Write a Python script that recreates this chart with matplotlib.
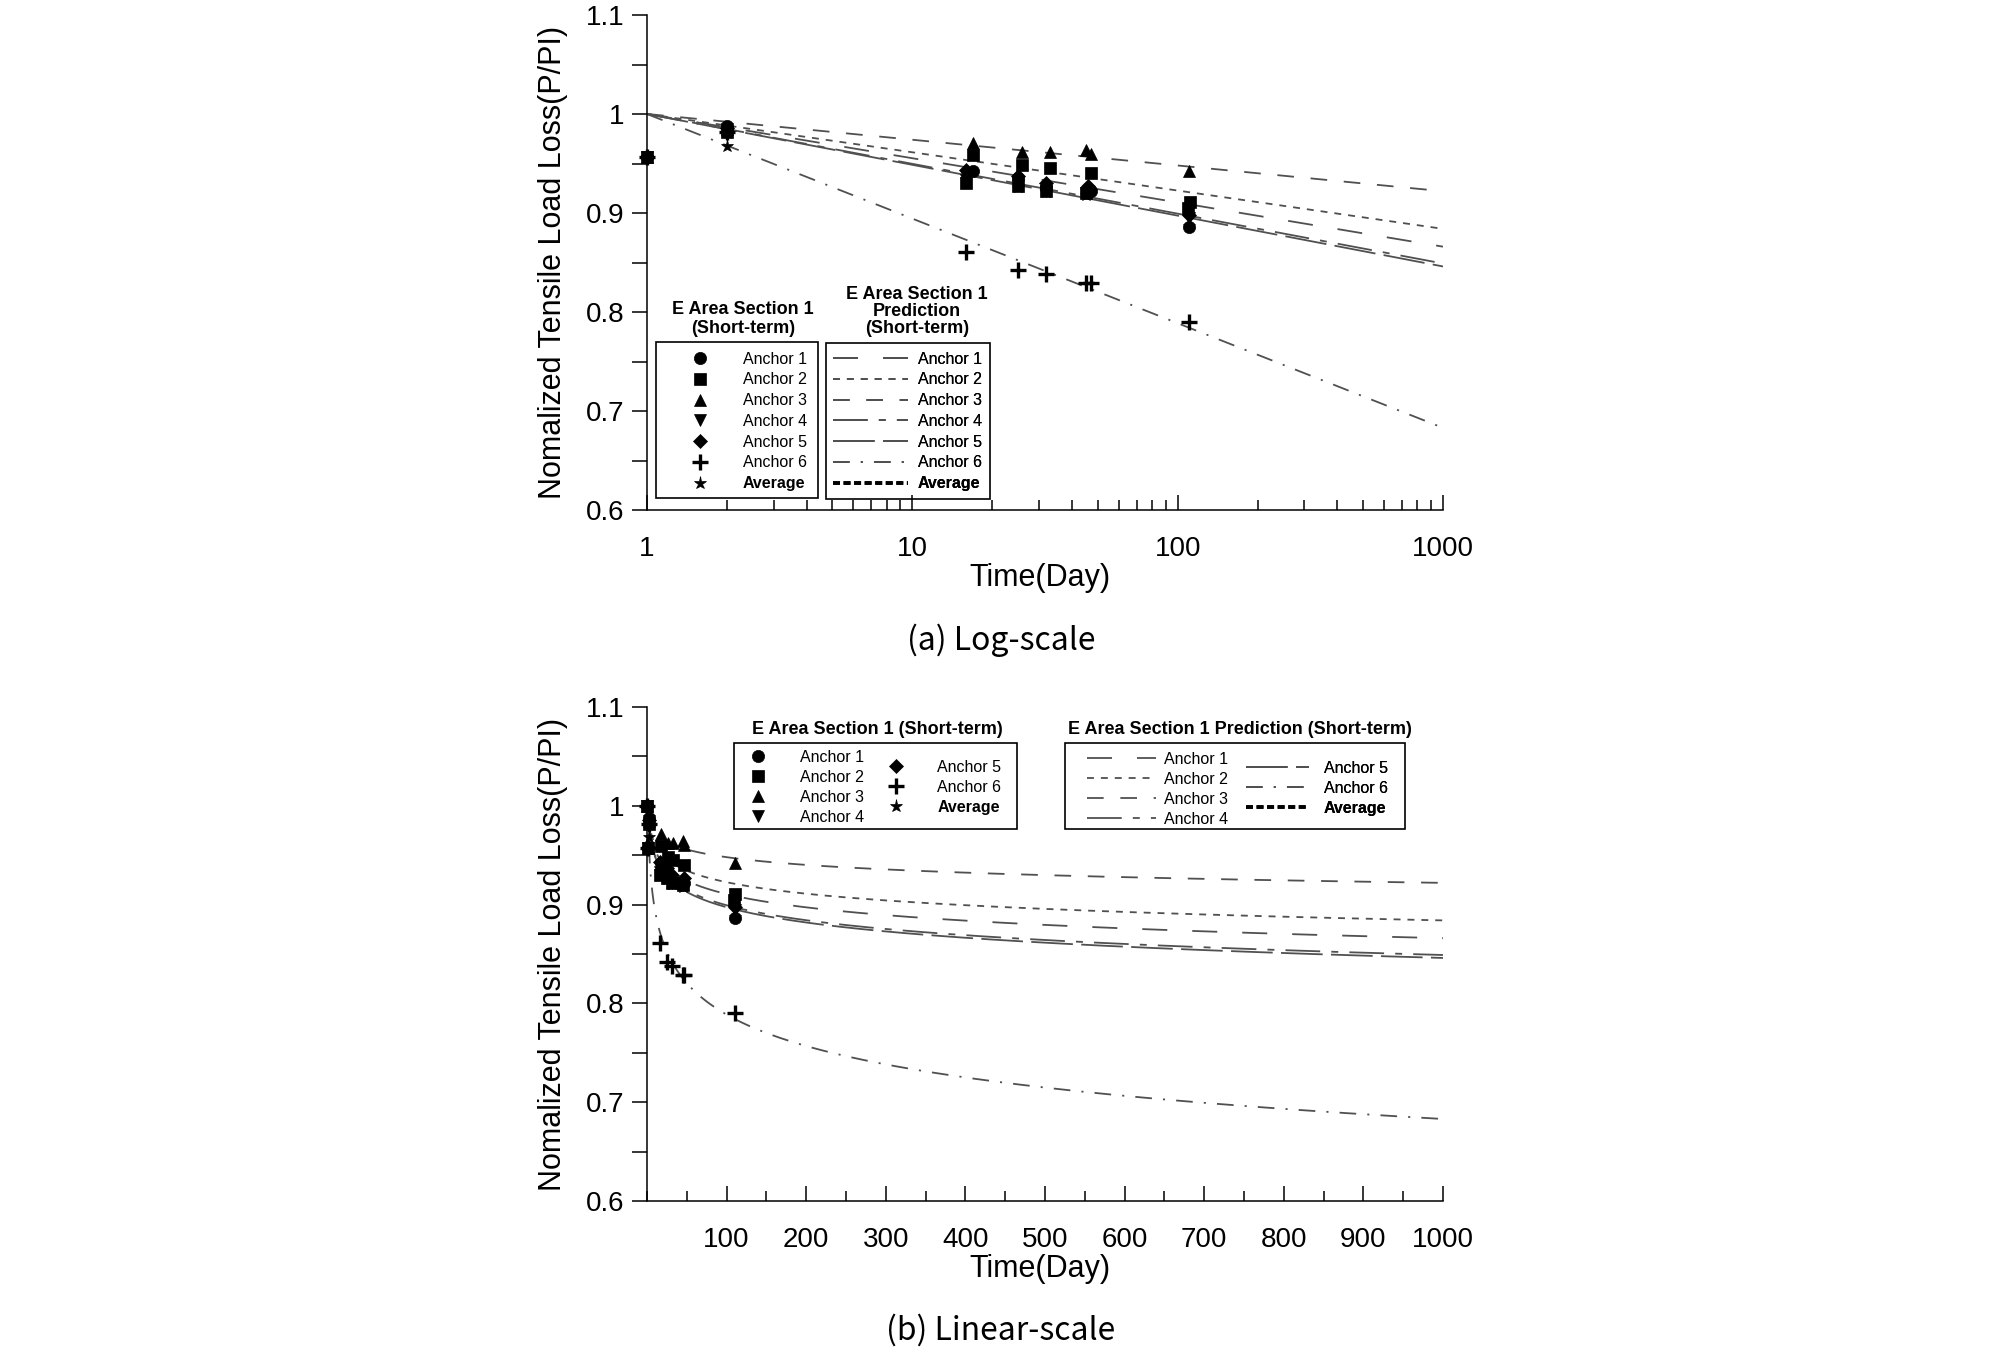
import numpy as np
import matplotlib
matplotlib.use("Agg")
import matplotlib.pyplot as plt
from matplotlib.patches import Rectangle
from matplotlib.lines import Line2D
from matplotlib.ticker import FixedLocator, FixedFormatter, MultipleLocator, NullFormatter, LogLocator
from matplotlib import font_manager

# ------------------------------------------------------------------ data
anchor_labels = ["Anchor 1", "Anchor 2", "Anchor 3", "Anchor 4", "Anchor 5", "Anchor 6"]
avg_label = "Average"

a1_days = [0, 1, 2, 17, 25, 32, 47, 110]
a1_vals = [1.000, 0.957, 0.988, 0.942, 0.935, 0.925, 0.922, 0.886]
a2_days = [0, 1, 2, 16, 17, 25, 26, 32, 33, 45, 47, 109, 111]
a2_vals = [1.000, 0.957, 0.982, 0.930, 0.959, 0.927, 0.948, 0.922, 0.945, 0.920, 0.940, 0.905, 0.911]
a3_days = [0, 1, 2, 17, 26, 33, 45, 47, 110]
a3_vals = [1.000, 0.957, 0.985, 0.971, 0.962, 0.962, 0.964, 0.960, 0.942]
a4_days = [0, 1, 2, 16, 25, 32, 45, 110]
a4_vals = [1.000, 0.957, 0.985, 0.933, 0.928, 0.922, 0.920, 0.895]
a5_days = [0, 1, 2, 16, 25, 32, 46, 110]
a5_vals = [1.000, 0.957, 0.986, 0.943, 0.937, 0.930, 0.927, 0.898]
a6_days = [0, 1, 2, 16, 25, 32, 45, 47, 110]
a6_vals = [1.000, 0.957, 0.982, 0.861, 0.842, 0.838, 0.829, 0.829, 0.790]
avg_days = [0, 1, 2, 16, 25, 32, 45, 110]
avg_vals = [1.000, 0.957, 0.968, 0.934, 0.926, 0.921, 0.918, 0.887]

# prediction (short-term): log-linear model P = 1 - k*log10(t), read as value at 1000 days
pred_at_1000 = [0.866, 0.884, 0.922, 0.849, 0.846, 0.683]
pred_t_start, pred_t_end = 1, 1000

y_ticks = [0.6, 0.7, 0.8, 0.9, 1.0, 1.1]
y_tick_labels = ["0.6", "0.7", "0.8", "0.9", "1", "1.1"]
log_x_ticks = [1, 10, 100, 1000]
log_x_labels = ["1", "10", "100", "1000"]
lin_x_ticks = [100, 200, 300, 400, 500, 600, 700, 800, 900, 1000]
lin_x_labels = [str(v) for v in lin_x_ticks]

# ------------------------------------------------------------------ style
plt.rcParams["lines.scale_dashes"] = False
names = {f.name for f in font_manager.fontManager.ttflist}
NARROW = "Liberation Sans Narrow" if "Liberation Sans Narrow" in names else "Liberation Sans"
SANS = "Liberation Sans"
CAP = "Noto Sans CJK KR"

markers = ["o", "s", "^", "v", "D", "+", "*"]
msizes = [8.8, 9.2, 9.0, 9.0, 6.8, 11.0, 9.5]
line_color = "#505050"
line_dashes = [(18, 18), (5, 5), (12, 12), (25, 8, 5, 8), (30, 6), (12, 8, 1.5, 8)]

meas_days = [a1_days, a2_days, a3_days, a4_days, a5_days, a6_days, avg_days]
meas_vals = [a1_vals, a2_vals, a3_vals, a4_vals, a5_vals, a6_vals, avg_vals]
meas_labels = anchor_labels + [avg_label]

fig = plt.figure(figsize=(20.08, 13.5), dpi=100)
W, H = 2008.0, 1350.0
ax1 = fig.add_axes([647 / W, 1 - 510 / H, 796 / W, 495 / H])
ax2 = fig.add_axes([647 / W, 1 - 1201 / H, 796 / W, 494 / H])

t_pred = np.logspace(np.log10(pred_t_start), np.log10(pred_t_end), 800)


def draw(ax, log):
    line_h = []
    for i, p1000 in enumerate(pred_at_1000):
        k = (1 - p1000) / np.log10(pred_t_end)
        ln, = ax.plot(t_pred, 1 - k * np.log10(t_pred), color=line_color, lw=1.3,
                      dashes=line_dashes[i], label=anchor_labels[i], zorder=2)
        line_h.append(ln)
    avg_proxy = Line2D([], [], color="black", lw=2.6, dashes=(5, 2.6), label=avg_label)
    line_h.append(avg_proxy)
    mark_h = []
    for i in range(7):
        d = np.asarray(meas_days[i], float)
        v = np.asarray(meas_vals[i], float)
        if log:
            keep = d > 0
            d, v = d[keep], v[keep]
        mk = markers[i]
        ln, = ax.plot(d, v, ls="none", marker=mk, ms=msizes[i], color="black",
                      mec="black", mew=2.4 if mk == "+" else 0.5, label=meas_labels[i],
                      zorder=3 + i * 0.01, clip_on=False)
        mark_h.append(ln)
    return mark_h, line_h


def style(ax):
    for s in ("top", "right"):
        ax.spines[s].set_visible(False)
    for s in ("left", "bottom"):
        ax.spines[s].set_linewidth(1.1)
    ax.set_ylim(0.6, 1.1)
    ax.yaxis.set_major_locator(FixedLocator(y_ticks))
    ax.yaxis.set_major_formatter(FixedFormatter(y_tick_labels))
    ax.yaxis.set_minor_locator(MultipleLocator(0.05))
    ax.tick_params(axis="y", which="both", direction="out", length=11, width=1.1, pad=5,
                   labelsize=20)
    ax.tick_params(axis="x", which="major", direction="in", length=11, width=1.1, pad=19,
                   labelsize=20)
    ax.tick_params(axis="x", which="minor", direction="in", length=7, width=1.1)
    for lab in ax.get_xticklabels() + ax.get_yticklabels():
        lab.set_family(NARROW)
    ax.set_ylabel("Nomalized Tensile Load Loss(P/PI)", fontsize=22, family=SANS)
    ax.yaxis.set_label_coords(-0.099, 0.5)
    ax.set_xlabel("Time(Day)", fontsize=22, family=SANS)
    ax.xaxis.set_label_coords(0.494, -0.108)


def legend_col(ax, handles, labels, x0, ytop, hl, htp, fs=11.5, ls=0.35):
    leg = ax.legend(handles, labels, loc="upper left", bbox_to_anchor=(x0, ytop),
                    bbox_transform=ax.transAxes, frameon=False, borderpad=0,
                    borderaxespad=0, handlelength=hl, handletextpad=htp,
                    labelspacing=ls, numpoints=1, prop={"family": SANS, "size": fs})
    for t in leg.get_texts():
        if t.get_text() == avg_label:
            t.set_fontweight("bold")
    ax.add_artist(leg)
    return leg


def box(ax, x0, y0, x1, y1):
    ax.add_patch(Rectangle((x0, y0), x1 - x0, y1 - y0, transform=ax.transAxes,
                           fill=False, ec="black", lw=1.2, clip_on=False, zorder=5))


# ------------------------------------------------------------------ (a) log
ax1.set_xscale("log")
mh, lh = draw(ax1, True)
ax1.set_xlim(1, 1000)
ax1.xaxis.set_major_locator(FixedLocator(log_x_ticks))
ax1.xaxis.set_major_formatter(FixedFormatter(log_x_labels))
ax1.xaxis.set_minor_locator(LogLocator(base=10, subs=np.arange(2, 10)))
ax1.xaxis.set_minor_formatter(NullFormatter())
style(ax1)

box(ax1, 0.0113, 0.024, 0.2148, 0.339)
box(ax1, 0.2248, 0.022, 0.4309, 0.337)
legend_col(ax1, mh, meas_labels, 0.0364, 0.320, 3.0, 1.19, ls=0.36)
legend_col(ax1, lh, meas_labels, 0.2337, 0.320, 4.7, 0.62, ls=0.36)
ax1.text(0.1206, 0.35, "E Area Section 1\n(Short-term)", transform=ax1.transAxes,
         ha="center", va="bottom", fontsize=13, fontweight="bold", family=SANS,
         linespacing=1.1)
ax1.text(0.339, 0.35, "E Area Section 1\nPrediction\n(Short-term)", transform=ax1.transAxes,
         ha="center", va="bottom", fontsize=13, fontweight="bold", family=SANS,
         linespacing=0.98)

# ------------------------------------------------------------------ (b) linear
mh2, lh2 = draw(ax2, False)
ax2.set_xlim(0, 1000)
ax2.xaxis.set_major_locator(FixedLocator(lin_x_ticks))
ax2.xaxis.set_major_formatter(FixedFormatter(lin_x_labels))
ax2.xaxis.set_minor_locator(MultipleLocator(50))
style(ax2)

box(ax2, 0.109, 0.753, 0.465, 0.928)
box(ax2, 0.525, 0.753, 0.952, 0.928)
legend_col(ax2, mh2[:4], meas_labels[:4], 0.109, 0.913, 3.0, 1.12, ls=0.31)
legend_col(ax2, mh2[4:], meas_labels[4:], 0.2827, 0.893, 3.0, 1.09, ls=0.31)
legend_col(ax2, lh2[:4], meas_labels[:4], 0.553, 0.909, 4.3, 0.53, ls=0.31)
legend_col(ax2, lh2[4:], meas_labels[4:], 0.753, 0.891, 3.9, 0.94, ls=0.31)
ax2.text(0.290, 0.955, "E Area Section 1 (Short-term)", transform=ax2.transAxes,
         ha="center", va="center", fontsize=13, fontweight="bold", family=SANS)
ax2.text(0.745, 0.955, "E Area Section 1 Prediction (Short-term)", transform=ax2.transAxes,
         ha="center", va="center", fontsize=13, fontweight="bold", family=SANS)

fig.text(1001 / W, 1 - 640 / H, "(a) Log-scale", ha="center", va="center",
         fontsize=23, family=[CAP, "DejaVu Sans"])
fig.text(1001 / W, 1 - 1330 / H, "(b) Linear-scale", ha="center", va="center",
         fontsize=23, family=[CAP, "DejaVu Sans"])

fig.savefig("out.png", dpi=100)
